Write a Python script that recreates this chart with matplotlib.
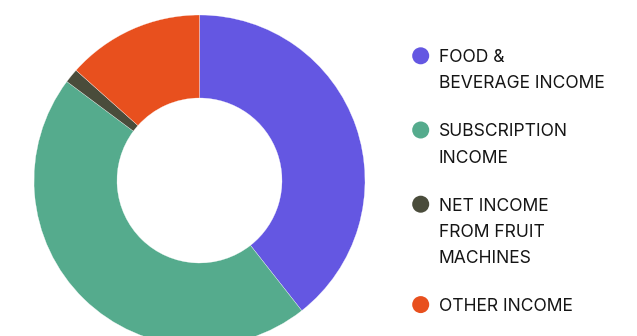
import matplotlib
matplotlib.use("Agg")
import matplotlib.pyplot as plt

# income split (percent of total)
categories = ["FOOD &\nBEVERAGE INCOME", "SUBSCRIPTION\nINCOME",
              "NET INCOME\nFROM FRUIT\nMACHINES", "OTHER INCOME"]
shares = [39.4, 45.8, 1.4, 13.4]
colors = ["#6457E2", "#55AB8D", "#4A4C3B", "#E8501E"]

W, H = 637, 336
fig = plt.figure(figsize=(W / 100, H / 100), dpi=100)
ax = fig.add_axes([0, 0, 1, 1])

# donut, cut off at the bottom edge
radius = 165.5
ax.pie(shares, colors=colors, startangle=90, counterclock=False,
       center=(199.5, H - 180.5), radius=radius, frame=True,
       wedgeprops=dict(width=83, edgecolor="white", linewidth=0.2))
ax.set_xlim(0, W)
ax.set_ylim(0, H)
ax.set_aspect("equal")
ax.axis("off")

# legend drawn by hand: a dot and stacked caps lines
line_step = 26.2
entry_gap = 48
baseline = H - 62.3
for label, col in zip(categories, colors):
    lines = label.split("\n")
    ax.scatter([420.7], [baseline + 6.5], s=150, color=col, edgecolor="none")
    for i, line in enumerate(lines):
        ax.text(439, baseline - i * line_step, line, fontsize=12.6,
                family="Inter", color="#151515", va="baseline", ha="left")
    baseline -= (len(lines) - 1) * line_step + entry_gap

fig.savefig("out.png", dpi=100)
